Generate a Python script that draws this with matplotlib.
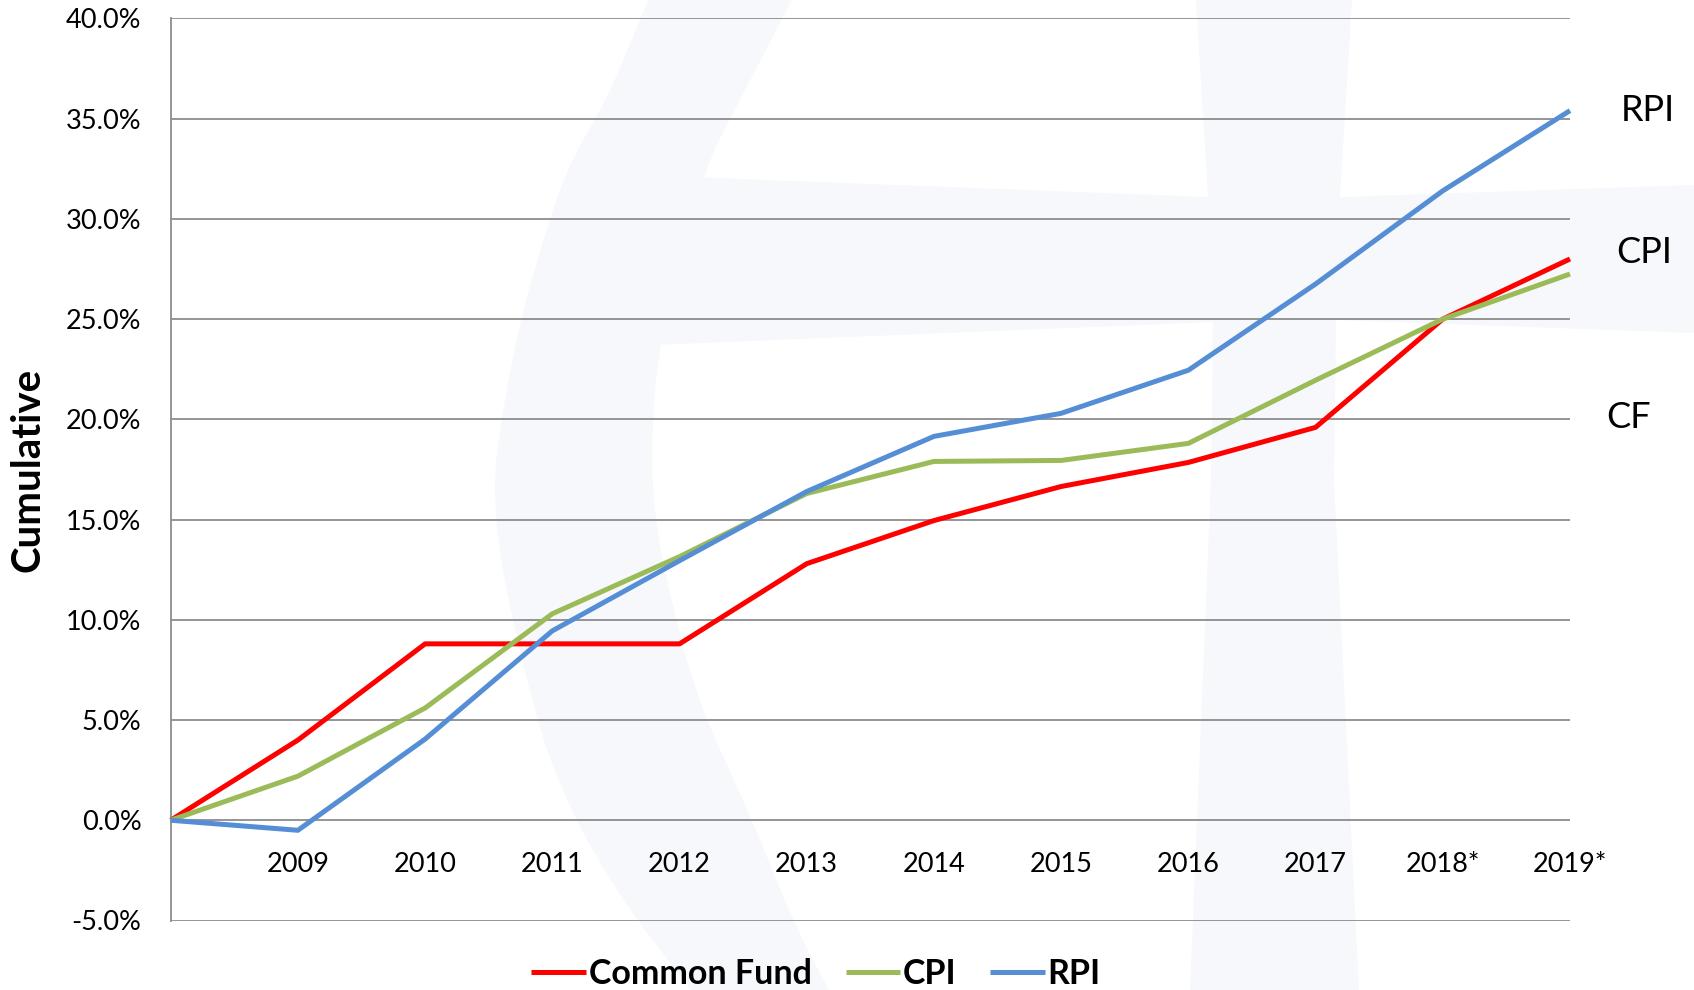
import matplotlib
matplotlib.use("Agg")
import matplotlib.pyplot as plt
from matplotlib.patches import Polygon
from matplotlib.ticker import FuncFormatter

plt.rcParams['font.family'] = ['Lato', 'DejaVu Sans']

# data (cumulative %, base year at 0)
years = ['', '2009', '2010', '2011', '2012', '2013', '2014', '2015', '2016', '2017', '2018*', '2019*']
common_fund = [0.0, 4.0, 8.8, 8.8, 8.8, 12.8, 14.95, 16.65, 17.85, 19.6, 25.0, 28.0]
cpi = [0.0, 2.2, 5.6, 10.3, 13.15, 16.3, 17.9, 17.95, 18.8, 21.95, 25.0, 27.25]
rpi = [0.0, -0.5, 4.05, 9.45, 12.95, 16.4, 19.15, 20.3, 22.45, 26.75, 31.4, 35.4]

series_names = ['Common Fund', 'CPI', 'RPI']
series_colors = ['#FF0000', '#9BBB59', '#558ED5']

end_labels = ['RPI', 'CPI', 'CF']
end_label_x = [11.61, 11.58, 11.46]
end_label_y = [35.4, 28.3, 20.1]

W, H = 1694, 990
fig = plt.figure(figsize=(W / 100, H / 100), dpi=100)

# faint background logo (pixel outline -> figure fraction)
wm_color = '#F7F8FC'
def px(points):
    return [(x / W, 1 - y / H) for x, y in points]

def smooth(points, n=3):
    # chaikin corner cutting, open ends kept
    for _ in range(n):
        out = [points[0]]
        for (x0, y0), (x1, y1) in zip(points[:-1], points[1:]):
            out.append((0.75 * x0 + 0.25 * x1, 0.75 * y0 + 0.25 * y1))
            out.append((0.25 * x0 + 0.75 * x1, 0.25 * y0 + 0.75 * y1))
        out.append(points[-1])
        points = out
    return points

outer = [(648, 0), (607, 100), (567, 167), (540, 250), (518, 330), (503, 410), (493, 480),
         (500, 560), (522, 662), (553, 775), (612, 887), (691, 990)]
inner = [(829, 990), (794, 924), (749, 812), (697, 700), (668, 587),
         (655, 520), (651, 450), (658, 345), (700, 177), (745, 90), (792, 0)]
crescent = smooth(outer) + smooth(inner)
band = [(690, 177), (1208, 197), (1340, 197), (1694, 185), (1694, 333),
        (1336, 320), (1213, 322), (655, 345)]
bar = [(1196, 0), (1352, 0), (1340, 197), (1336, 320), (1334, 480), (1359, 990),
       (1190, 990), (1211, 480), (1213, 322), (1208, 197)]
for shape in (crescent, band, bar):
    fig.add_artist(Polygon(px(shape), closed=True, transform=fig.transFigure,
                           facecolor=wm_color, edgecolor='none', zorder=-5))

ax = fig.add_axes([170.7 / W, 1 - 920.5 / H, (1570 - 170.7) / W, (920.5 - 18.4) / H])
ax.set_facecolor('none')

x = list(range(len(years)))
for vals, name, col in zip([common_fund, cpi, rpi], series_names, series_colors):
    ax.plot(x, vals, color=col, lw=3.6, label=name, clip_on=False,
            solid_joinstyle='round', solid_capstyle='butt', zorder=3)

ax.set_xlim(0, len(years) - 1)
ax.set_ylim(-5, 40)
ax.set_yticks(range(-5, 41, 5))
ax.yaxis.set_major_formatter(FuncFormatter(lambda v, p: '{:.1f}%'.format(v)))
ax.set_xticks(x)
ax.set_xticklabels(years)

ax.grid(axis='y', color='#8C8C8C', lw=1.3)
ax.set_axisbelow(True)
for s in ['top', 'right', 'bottom']:
    ax.spines[s].set_visible(False)
ax.spines['bottom'].set_position(('data', 0))
ax.spines['left'].set_color('#8C8C8C')
ax.spines['left'].set_linewidth(1.3)

ax.tick_params(axis='y', length=0, pad=21, labelsize=19.5)
ax.tick_params(axis='x', length=0, pad=23, labelsize=19.5)

ax.set_ylabel('Cumulative', fontsize=29, fontweight='bold')
ax.yaxis.set_label_coords(-0.089, 0.5)

for lab, lx, ly in zip(end_labels, end_label_x, end_label_y):
    ax.text(lx, ly, lab, fontsize=26, ha='center', va='center', clip_on=False)

leg = fig.legend(loc='center', bbox_to_anchor=(816 / W, 1 - 974 / H), ncol=3,
                 frameon=False, handlelength=1.6, handletextpad=0.08,
                 columnspacing=1.0, prop={'size': 24.5, 'weight': 'bold'})

fig.savefig('out.png', dpi=100)
